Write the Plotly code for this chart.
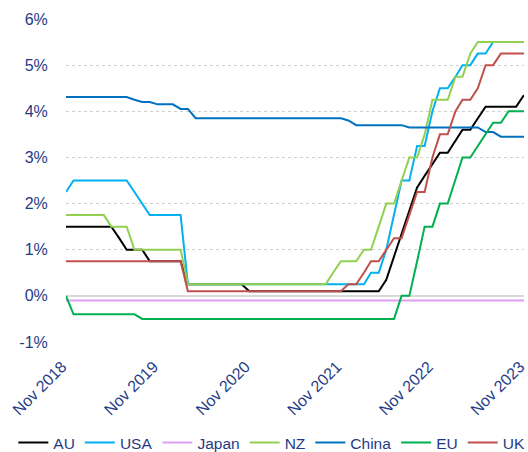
import pandas as pd
import plotly.graph_objects as go

# Monthly dates, Nov 2018 .. Nov 2023 (61 months)
months = pd.date_range("2018-11-01", "2023-11-01", freq="MS")

au = ([1.5] * 7 + [1.25, 1.0, 1.0, 1.0, 0.75] + [0.75] * 4 + [0.25] * 8 + [0.1] * 18 +
      [0.35, 0.85, 1.35, 1.85, 2.35, 2.6, 2.85, 3.1, 3.1, 3.35, 3.6, 3.6, 3.85,
       4.1, 4.1, 4.1, 4.1, 4.1, 4.35])
usa = ([2.25] + [2.5] * 8 + [2.25, 2.0] + [1.75] * 5 + [0.25] * 24 +
       [0.5, 0.5, 1.0, 1.75, 2.5, 2.5, 3.25, 3.25, 4.0, 4.5, 4.5, 4.75, 5.0, 5.0,
        5.25, 5.25] + [5.5] * 5)
japan = [-0.1] * 61
nz = ([1.75] * 6 + [1.5] * 3 + [1.0] * 7 + [0.25] * 19 +
      [0.5, 0.75, 0.75, 0.75, 1.0, 1.0, 1.5, 2.0, 2.0, 2.5, 3.0, 3.0, 3.5, 4.25,
       4.25, 4.25, 4.75, 4.75, 5.25] + [5.5] * 7)
china = ([4.31] * 9 + [4.25, 4.2, 4.2] + [4.15] * 3 + [4.05, 4.05] + [3.85] * 20 +
         [3.8] + [3.7] * 7 + [3.65] * 10 + [3.55, 3.55] + [3.45] * 4)
eu = ([0.0] + [-0.4] * 9 + [-0.5] * 34 +
      [0.0, 0.0, 0.75, 1.5, 1.5, 2.0, 2.0, 2.5, 3.0, 3.0, 3.25, 3.5, 3.75, 3.75] +
      [4.0] * 3)
uk = ([0.75] * 16 + [0.1] * 21 +
      [0.25, 0.25, 0.5, 0.75, 0.75, 1.0, 1.25, 1.25, 1.75, 2.25, 2.25, 3.0, 3.5,
       3.5, 4.0, 4.25, 4.25, 4.5, 5.0, 5.0] + [5.25] * 4)

series_names = ["AU", "USA", "Japan", "NZ", "China", "EU", "UK"]
series_values = [au, usa, japan, nz, china, eu, uk]
series_colors = ["#000000", "#00b0f0", "#df9ff2", "#92d050", "#0070c0", "#00b050", "#c0504d"]

y_ticks = [-1, 0, 1, 2, 3, 4, 5, 6]
y_tick_labels = ["-1%", "0%", "1%", "2%", "3%", "4%", "5%", "6%"]
x_ticks = ["2018-11-01", "2019-11-01", "2020-11-01", "2021-11-01", "2022-11-01", "2023-11-01"]
x_tick_labels = ["Nov 2018", "Nov 2019", "Nov 2020", "Nov 2021", "Nov 2022", "Nov 2023"]

navy = "#1f3b86"
font_family = "Arial, Liberation Sans, sans-serif"

fig = go.Figure()
for name, vals, col in zip(series_names, series_values, series_colors):
    fig.add_trace(go.Scatter(x=months, y=vals, name=name, mode="lines",
                             line=dict(color=col, width=2)))

fig.update_layout(
    width=528, height=452,
    margin=dict(l=66, r=4, t=19, b=110, autoexpand=False),
    plot_bgcolor="white", paper_bgcolor="white",
    font=dict(family=font_family, color=navy, size=16),
    showlegend=True,
    legend=dict(orientation="h", xref="paper", yref="paper",
                x=-0.115, xanchor="left", y=-0.26, yanchor="top",
                font=dict(size=15.5, color=navy), bgcolor="rgba(0,0,0,0)",
                itemclick=False),
)
fig.update_xaxes(
    type="date", range=["2018-11-01", "2023-11-01 04:00"],
    tickvals=x_ticks, ticktext=x_tick_labels, tickangle=-45,
    showgrid=False, zeroline=False, showline=False, automargin=False,
    ticklabeloverflow="allow", ticklabelshift=-4,
    ticks="outside", ticklen=8, tickcolor="rgba(0,0,0,0)",
    tickfont=dict(size=16, color=navy),
)
fig.update_yaxes(
    range=[-1, 6], tickvals=y_ticks, ticktext=y_tick_labels,
    showgrid=True, gridcolor="#cfcfcf", griddash="dot", gridwidth=1,
    zeroline=True, zerolinecolor="#d9d9d9", zerolinewidth=1.5,
    showline=False, automargin=False, ticks="outside", ticklen=14,
    tickcolor="rgba(0,0,0,0)",
    tickfont=dict(size=16, color=navy),
)

fig.write_html("out.html")
